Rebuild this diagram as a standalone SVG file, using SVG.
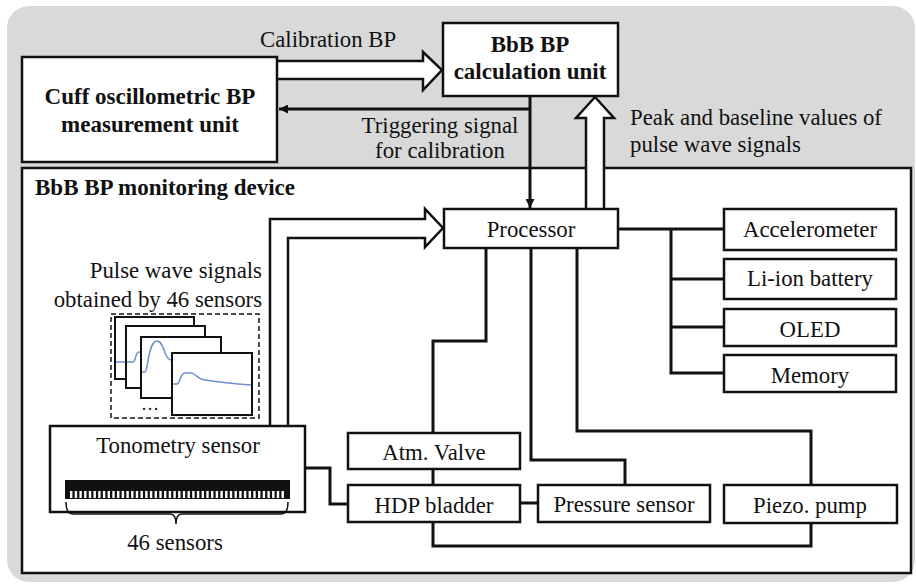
<svg xmlns="http://www.w3.org/2000/svg" width="916" height="584" viewBox="0 0 916 584" font-family="'Liberation Serif', 'Times New Roman', Times, 'DejaVu Serif', serif">
<defs>
<style>
text{font-size:22.8px;fill:#111}
.b{font-weight:bold;font-size:23px}
.m{text-anchor:middle}
.e{text-anchor:end}
.box{fill:#fff;stroke:#111;stroke-width:2.5}
.ln{fill:none;stroke:#111;stroke-width:3}
.ha{fill:#fff;stroke:#111;stroke-width:2.5;stroke-linejoin:miter}
.fr{fill:#fff;stroke:#111;stroke-width:2}
.wv{fill:none;stroke:#6f8fcf;stroke-width:1.5}
</style>
<marker id="ah" viewBox="0 0 10 10" refX="10" refY="5" markerWidth="10" markerHeight="9" markerUnits="userSpaceOnUse" orient="auto">
<path d="M0,0 L10,5 L0,10 Z" fill="#111"/>
</marker>
</defs>
<rect x="7" y="6" width="908" height="576" rx="22" fill="#d9d9d9"/>
<g id="monitoring-device">
<rect x="22" y="168" width="889" height="405" class="box"/>
<text x="35" y="195" class="b">BbB BP monitoring device</text>
</g>
<g id="connectors">
<path class="ha" d="M277,61 L423,61 L423,52 L442,70 L423,90 L423,79 L277,79"/>
<path class="ha" d="M586,208 L586,118 L576,118 L595,97 L614,118 L604,118 L604,208"/>
<path class="ha" d="M270,426 L270,219 L425,219 L425,209 L443,228 L425,247 L425,238 L288,238 L288,426"/>
<path class="ln" d="M530,96 L530,208" marker-end="url(#ah)"/>
<path class="ln" d="M530,109 L279,109" marker-end="url(#ah)"/>
<path class="ln" d="M618,229 L724,229 M671,229 L671,373 L724,373 M671,279 L724,279 M671,327 L724,327"/>
<path class="ln" d="M486,248 L486,341 L433,341 L433,433 M433,469 L433,485 M433,522 L433,546 L811,546 L811,523"/>
<path class="ln" d="M531,248 L531,460 L625,460 L625,485"/>
<path class="ln" d="M577,248 L577,431 L811,431 L811,485"/>
<path class="ln" d="M305,468 L330,468 L330,504 L348,504 M520,503 L538,503"/>
</g>
<text x="260" y="47">Calibration BP</text>
<text x="440" y="133" class="m">Triggering signal</text>
<text x="440" y="158" class="m">for calibration</text>
<text x="630" y="125">Peak and baseline values of</text>
<text x="630" y="152">pulse wave signals</text>
<g id="cuff-unit">
<rect x="22" y="57" width="255" height="105" class="box"/>
<text x="150" y="104" class="b m">Cuff oscillometric BP</text>
<text x="150" y="132" class="b m">measurement unit</text>
</g>
<g id="calc-unit">
<rect x="443" y="23" width="175" height="73" class="box"/>
<text x="530" y="52" class="b m">BbB BP</text>
<text x="530" y="79" class="b m">calculation unit</text>
</g>
<g id="processor">
<rect x="444" y="209" width="174" height="39" class="box"/>
<text x="531" y="237" class="m">Processor</text>
</g>
<g id="accelerometer">
<rect x="724" y="209" width="172" height="41" class="box"/>
<text x="810" y="237" class="m">Accelerometer</text>
</g>
<g id="battery">
<rect x="724" y="259" width="172" height="40" class="box"/>
<text x="810" y="286" class="m">Li-ion battery</text>
</g>
<g id="oled">
<rect x="724" y="309" width="172" height="37" class="box"/>
<text x="810" y="337" class="m">OLED</text>
</g>
<g id="memory">
<rect x="724" y="355" width="172" height="37" class="box"/>
<text x="810" y="383" class="m">Memory</text>
</g>
<g id="atm-valve">
<rect x="348" y="433" width="172" height="36" class="box"/>
<text x="434" y="460" class="m">Atm. Valve</text>
</g>
<g id="hdp-bladder">
<rect x="348" y="485" width="172" height="37" class="box"/>
<text x="434" y="513" class="m">HDP bladder</text>
</g>
<g id="pressure-sensor">
<rect x="538" y="485" width="172" height="37" class="box"/>
<text x="624" y="512" class="m">Pressure sensor</text>
</g>
<g id="piezo-pump">
<rect x="724" y="485" width="173" height="38" class="box"/>
<text x="810" y="513" class="m">Piezo. pump</text>
</g>
<g id="pulse-signals">
<text x="262" y="278" class="e">Pulse wave signals</text>
<text x="262" y="307" class="e">obtained by 46 sensors</text>
<rect x="111" y="314" width="148" height="104" fill="none" stroke="#111" stroke-width="1.5" stroke-dasharray="5 3"/>
<rect x="115" y="317" width="79" height="62" class="fr"/>
<path class="wv" d="M116,362 L126,362"/>
<rect x="126" y="326" width="79" height="62" class="fr"/>
<path class="wv" d="M127,362 L133,362 C136,362 135,352 139,352 L141,352"/>
<rect x="141" y="337" width="80" height="61" class="fr"/>
<path class="wv" d="M142,372 L145,372 C148,372 148,341 157,341 C165,341 163,360 172,360"/>
<rect x="172" y="353" width="80" height="62" class="fr"/>
<path class="wv" d="M173,384 L177,384 C180,384 180,373 185,373 L191,373 C196,373 196,379 205,380 Q225,383 251,385"/>
<text x="150" y="410" class="m" style="font-size:18px">…</text>
</g>
<g id="tonometry-sensor">
<rect x="50" y="426" width="255" height="86" class="box"/>
<text x="178" y="453" class="m">Tonometry sensor</text>
<rect x="65" y="480" width="225" height="19" fill="#111"/>
<g fill="#fff">
<rect x="70.0" y="491" width="2.4" height="7"/><rect x="74.7" y="491" width="2.4" height="7"/><rect x="79.4" y="491" width="2.4" height="7"/><rect x="84.1" y="491" width="2.4" height="7"/><rect x="88.8" y="491" width="2.4" height="7"/><rect x="93.5" y="491" width="2.4" height="7"/><rect x="98.2" y="491" width="2.4" height="7"/><rect x="102.9" y="491" width="2.4" height="7"/><rect x="107.6" y="491" width="2.4" height="7"/><rect x="112.3" y="491" width="2.4" height="7"/>
<rect x="117.0" y="491" width="2.4" height="7"/><rect x="121.7" y="491" width="2.4" height="7"/><rect x="126.4" y="491" width="2.4" height="7"/><rect x="131.1" y="491" width="2.4" height="7"/><rect x="135.8" y="491" width="2.4" height="7"/><rect x="140.5" y="491" width="2.4" height="7"/><rect x="145.2" y="491" width="2.4" height="7"/><rect x="149.9" y="491" width="2.4" height="7"/><rect x="154.6" y="491" width="2.4" height="7"/><rect x="159.3" y="491" width="2.4" height="7"/>
<rect x="164.0" y="491" width="2.4" height="7"/><rect x="168.7" y="491" width="2.4" height="7"/><rect x="173.4" y="491" width="2.4" height="7"/><rect x="178.1" y="491" width="2.4" height="7"/><rect x="182.8" y="491" width="2.4" height="7"/><rect x="187.5" y="491" width="2.4" height="7"/><rect x="192.2" y="491" width="2.4" height="7"/><rect x="196.9" y="491" width="2.4" height="7"/><rect x="201.6" y="491" width="2.4" height="7"/><rect x="206.3" y="491" width="2.4" height="7"/>
<rect x="211.0" y="491" width="2.4" height="7"/><rect x="215.7" y="491" width="2.4" height="7"/><rect x="220.4" y="491" width="2.4" height="7"/><rect x="225.1" y="491" width="2.4" height="7"/><rect x="229.8" y="491" width="2.4" height="7"/><rect x="234.5" y="491" width="2.4" height="7"/><rect x="239.2" y="491" width="2.4" height="7"/><rect x="243.9" y="491" width="2.4" height="7"/><rect x="248.6" y="491" width="2.4" height="7"/><rect x="253.3" y="491" width="2.4" height="7"/>
<rect x="258.0" y="491" width="2.4" height="7"/><rect x="262.7" y="491" width="2.4" height="7"/><rect x="267.4" y="491" width="2.4" height="7"/><rect x="272.1" y="491" width="2.4" height="7"/><rect x="276.8" y="491" width="2.4" height="7"/><rect x="281.5" y="491" width="2.4" height="7"/>
</g>
<path d="M66,502 Q66,514 73,514 L170,514 Q176,514 176,524 Q176,514 182,514 L281,514 Q288,514 288,502" fill="none" stroke="#111" stroke-width="1.5"/>
<text x="175" y="550" class="m">46 sensors</text>
</g>
</svg>
